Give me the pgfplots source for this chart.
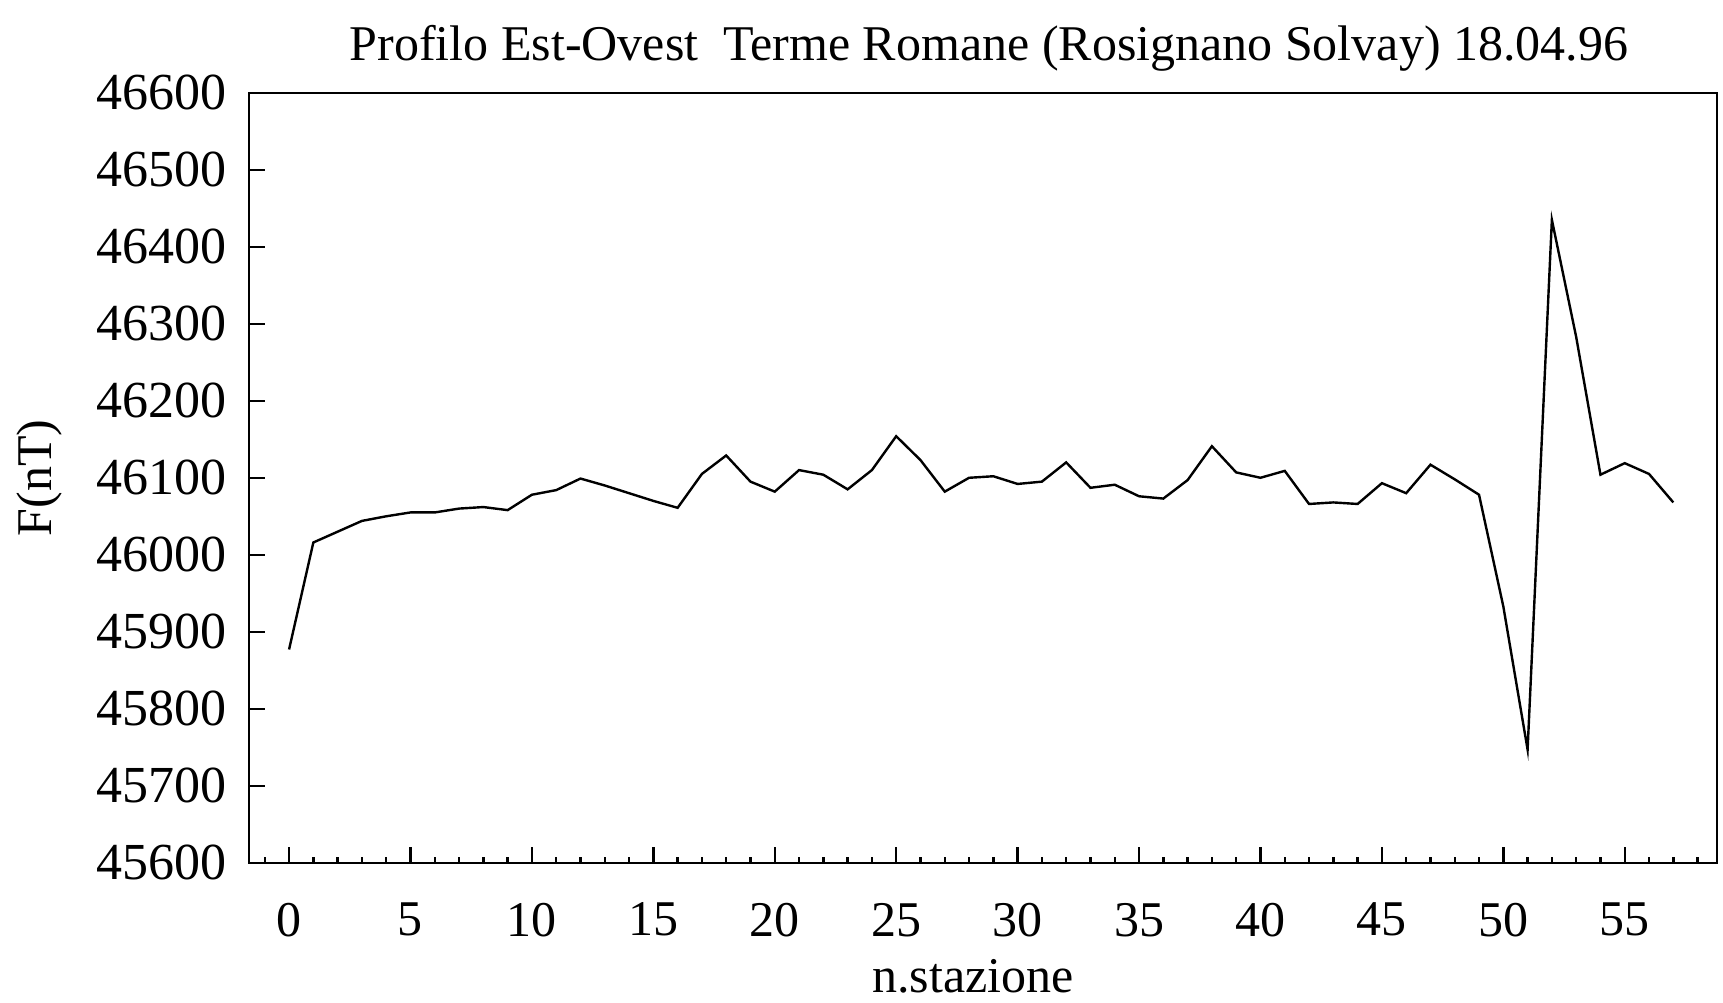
\documentclass[border=0pt]{standalone}
\usepackage{fontspec}
\setmainfont{Liberation Serif}
\usepackage{pgfplots}
\pgfplotsset{compat=1.18}
\pgfplotstableread{
s v
0 45877
1 46016
2 46030
3 46044
4 46050
5 46055
6 46055
7 46060
8 46062
9 46058
10 46078
11 46084
12 46099
13 46090
14 46080
15 46070
16 46061
17 46105
18 46129
19 46095
20 46082
21 46110
22 46104
23 46085
24 46110
25 46154
26 46123
27 46082
28 46100
29 46102
30 46092
31 46095
32 46120
33 46087
34 46091
35 46076
36 46073
37 46097
38 46141
39 46107
40 46100
41 46109
42 46066
43 46068
44 46066
45 46093
46 46080
47 46117
48 46098
49 46078
50 45933
51 45747
52 46435
53 46283
54 46104
55 46119
56 46105
57 46068
}\profile
\begin{document}
\begin{tikzpicture}
\begin{axis}[
  scale only axis, width=367pt, height=192.5pt,
  xmin=-1.65, xmax=58.8, ymin=45600, ymax=46600,
  axis line style={line width=0.6pt},
  xtick={0,5,...,55}, minor xtick={-1,0,...,58},
  ytick={45600,45700,...,46600},
  scaled y ticks=false,
  yticklabel={\pgfmathprintnumber[fixed,precision=0,set thousands separator={}]{\tick}},
  tick align=inside, xtick pos=bottom, ytick pos=left,
  major tick length=4pt, minor tick length=1.5pt,
  tick style={black, line width=0.6pt},
  /pgf/number format/assume math mode=true,
  /pgf/number format/set thousands separator={},
  ticklabel style={font=\fontsize{12.5}{14}\selectfont},
  xticklabel style={yshift=-6.5pt},
  yticklabel style={xshift=-2pt, font=\fontsize{13}{14}\selectfont},
  title={Profilo Est-Ovest\ \ Terme Romane (Rosignano Solvay) 18.04.96},
  title style={at={(0.5,1)}, anchor=base, yshift=2pt, xshift=1.5pt, font=\fontsize{12.5}{14}\selectfont},
  xlabel={n.stazione},
  xlabel style={at={(0.5,0)}, anchor=base, yshift=-32.5pt, xshift=-2.5pt, font=\fontsize{12.5}{14}\selectfont},
  ylabel={F(nT)},
  ylabel style={at={(axis description cs:-0.1424,0.5)}, anchor=center, font=\fontsize{12.5}{14}\selectfont},
]
\addplot[black, line width=0.6pt, mark=none] table[x=s, y=v] {\profile};
\coordinate (sw) at (rel axis cs:0,0);
\coordinate (ne) at (rel axis cs:1,1);
\end{axis}
\pgfresetboundingbox
\path[use as bounding box] ([xshift=-62.25pt,yshift=-35pt]sw) rectangle ([xshift=1.5pt,yshift=23.2pt]ne);
\end{tikzpicture}
\end{document}
